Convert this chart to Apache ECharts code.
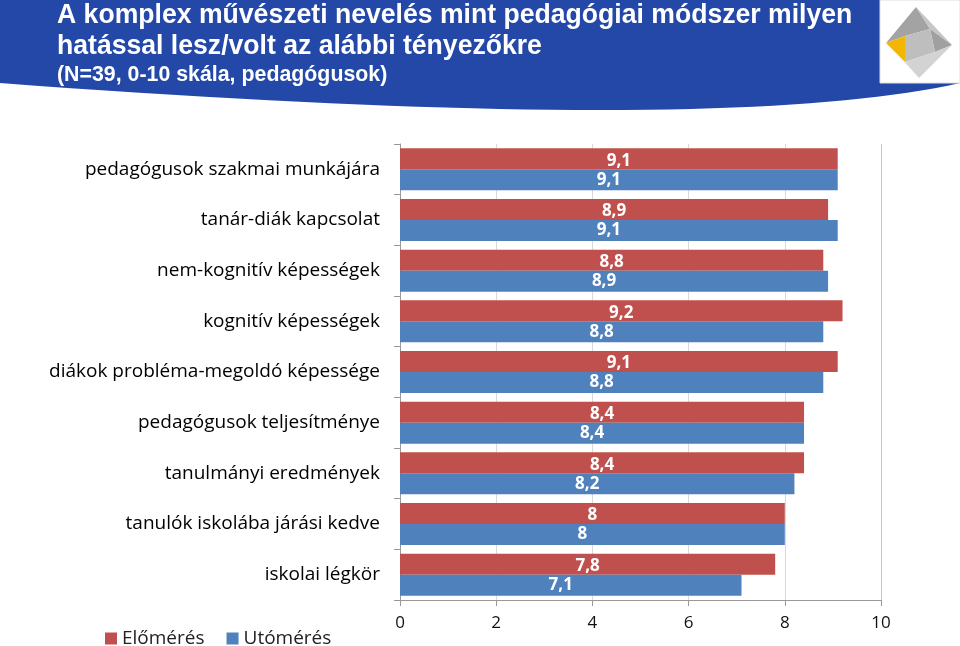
<!DOCTYPE html>
<html><head><meta charset="utf-8">
<script src="https://cdn.jsdelivr.net/npm/echarts@6/dist/echarts.min.js"></script>
<style>html,body{margin:0;padding:0;background:#fff}#c{width:960px;height:646px}</style>
</head><body><div id="c"></div>
<script>
const categories = [
  'pedagógusok szakmai munkájára',
  'tanár-diák kapcsolat',
  'nem-kognitív képességek',
  'kognitív képességek',
  'diákok probléma-megoldó képessége',
  'pedagógusok teljesítménye',
  'tanulmányi eredmények',
  'tanulók iskolába járási kedve',
  'iskolai légkör'
];
const seriesNames = ['Előmérés', 'Utómérés'];
const elomeres = [9.1, 8.9, 8.8, 9.2, 9.1, 8.4, 8.4, 8.0, 7.8];
const utomeres = [9.1, 9.1, 8.9, 8.8, 8.8, 8.4, 8.2, 8.0, 7.1];
const xTicks = [0, 2, 4, 6, 8, 10];
const titleLines = [
  'A komplex művészeti nevelés mint pedagógiai módszer milyen',
  'hatással lesz/volt az alábbi tényezőkre',
  '(N=39, 0-10 skála, pedagógusok)'
];

// banner outline (decoration): quadratic curve along the bottom edge
const bannerPts = [[0, 0], [960, 0]];
for (let i = 0; i <= 40; i++) {
  const t = i / 40;
  const x = (1 - t) * (1 - t) * 960 + 2 * t * (1 - t) * 720;
  const y = (1 - t) * (1 - t) * 83 + 2 * t * (1 - t) * 137 + t * t * 83;
  bannerPts.push([x, y]);
}

const chart = echarts.init(document.getElementById('c'), null, {renderer: 'canvas'});
const fmt = p => String(p.value).replace('.', ',');
const labelStyle = (dx, dy) => ({
  show: true, position: 'inside', color: '#fff', fontWeight: 'bold',
  fontFamily: 'Open Sans', fontSize: 17, formatter: fmt, offset: [dx, dy]
});
const titleFont = '"Liberation Sans", Arial, sans-serif';
chart.setOption({
  animation: false,
  backgroundColor: '#fff',
  grid: {left: 400, right: 79, top: 144, bottom: 46, containLabel: false},
  legend: {
    data: seriesNames, left: 100, top: 624, itemWidth: 12, itemHeight: 12, itemGap: 22,
    icon: 'rect',
    textStyle: {fontFamily: 'Open Sans', fontSize: 19, color: '#222'}
  },
  xAxis: {
    type: 'value', min: xTicks[0], max: xTicks[xTicks.length - 1], interval: 2,
    axisLine: {show: true, lineStyle: {color: '#999'}},
    axisTick: {show: true, length: 6, lineStyle: {color: '#999'}},
    axisLabel: {fontFamily: 'Open Sans', fontSize: 17, color: '#111', margin: 15},
    splitLine: {show: true, lineStyle: {color: ['#d9d9d9', '#d9d9d9', '#d9d9d9', '#d9d9d9', '#d9d9d9', '#b4c6e4']}}
  },
  yAxis: {
    type: 'category', data: categories, inverse: true,
    axisLine: {show: true, lineStyle: {color: '#999'}},
    axisTick: {show: true, length: 6, lineStyle: {color: '#999'}},
    axisLabel: {fontFamily: 'Open Sans', fontSize: 19, color: '#000', margin: 20}
  },
  series: [
    {name: seriesNames[0], type: 'bar', data: elomeres, barWidth: 21, barGap: '0%',
     itemStyle: {color: '#C0504D'}, label: labelStyle(0, 2)},
    {name: seriesNames[1], type: 'bar', data: utomeres, barWidth: 21, barGap: '0%',
     itemStyle: {color: '#4F81BD'}, label: labelStyle(-10, 0)}
  ],
  graphic: [
    {type: 'polygon', shape: {points: bannerPts}, style: {fill: '#2448A8'}, z: 1},
    {type: 'text', x: 57, y: 15, scaleX: 0.95, style: {text: titleLines[0], fill: '#fff', font: 'bold 28px ' + titleFont, verticalAlign: 'middle'}, z: 2},
    {type: 'text', x: 57, y: 46, scaleX: 0.95, style: {text: titleLines[1], fill: '#fff', font: 'bold 28px ' + titleFont, verticalAlign: 'middle'}, z: 2},
    {type: 'text', x: 57, y: 75, scaleX: 0.97, style: {text: titleLines[2], fill: '#fff', font: 'bold 22px ' + titleFont, verticalAlign: 'middle'}, z: 2},
    {type: 'rect', shape: {x: 880, y: 0, width: 80, height: 83}, style: {fill: '#fff', stroke: '#ddd', lineWidth: 1}, z: 3},
    {type: 'polygon', shape: {points: [[916,7],[886,43],[905,36],[930,29]]}, style: {fill: '#a3a3a3'}, z: 4},
    {type: 'polygon', shape: {points: [[916,7],[930,29],[952,45]]}, style: {fill: '#c6c6c6'}, z: 4},
    {type: 'polygon', shape: {points: [[930,29],[952,45],[935,52]]}, style: {fill: '#a0a0a0'}, z: 4},
    {type: 'polygon', shape: {points: [[905,36],[930,29],[935,52],[905,62]]}, style: {fill: '#bebebe'}, z: 4},
    {type: 'polygon', shape: {points: [[886,43],[905,36],[905,62]]}, style: {fill: '#f2b705'}, z: 4},
    {type: 'polygon', shape: {points: [[905,62],[935,52],[952,45],[919,78]]}, style: {fill: '#d3d3d3'}, z: 4},
    {type: 'polygon', shape: {points: [[886,43],[905,62],[919,78]]}, style: {fill: '#e2e2e2'}, z: 4}
  ]
});
</script></body></html>
